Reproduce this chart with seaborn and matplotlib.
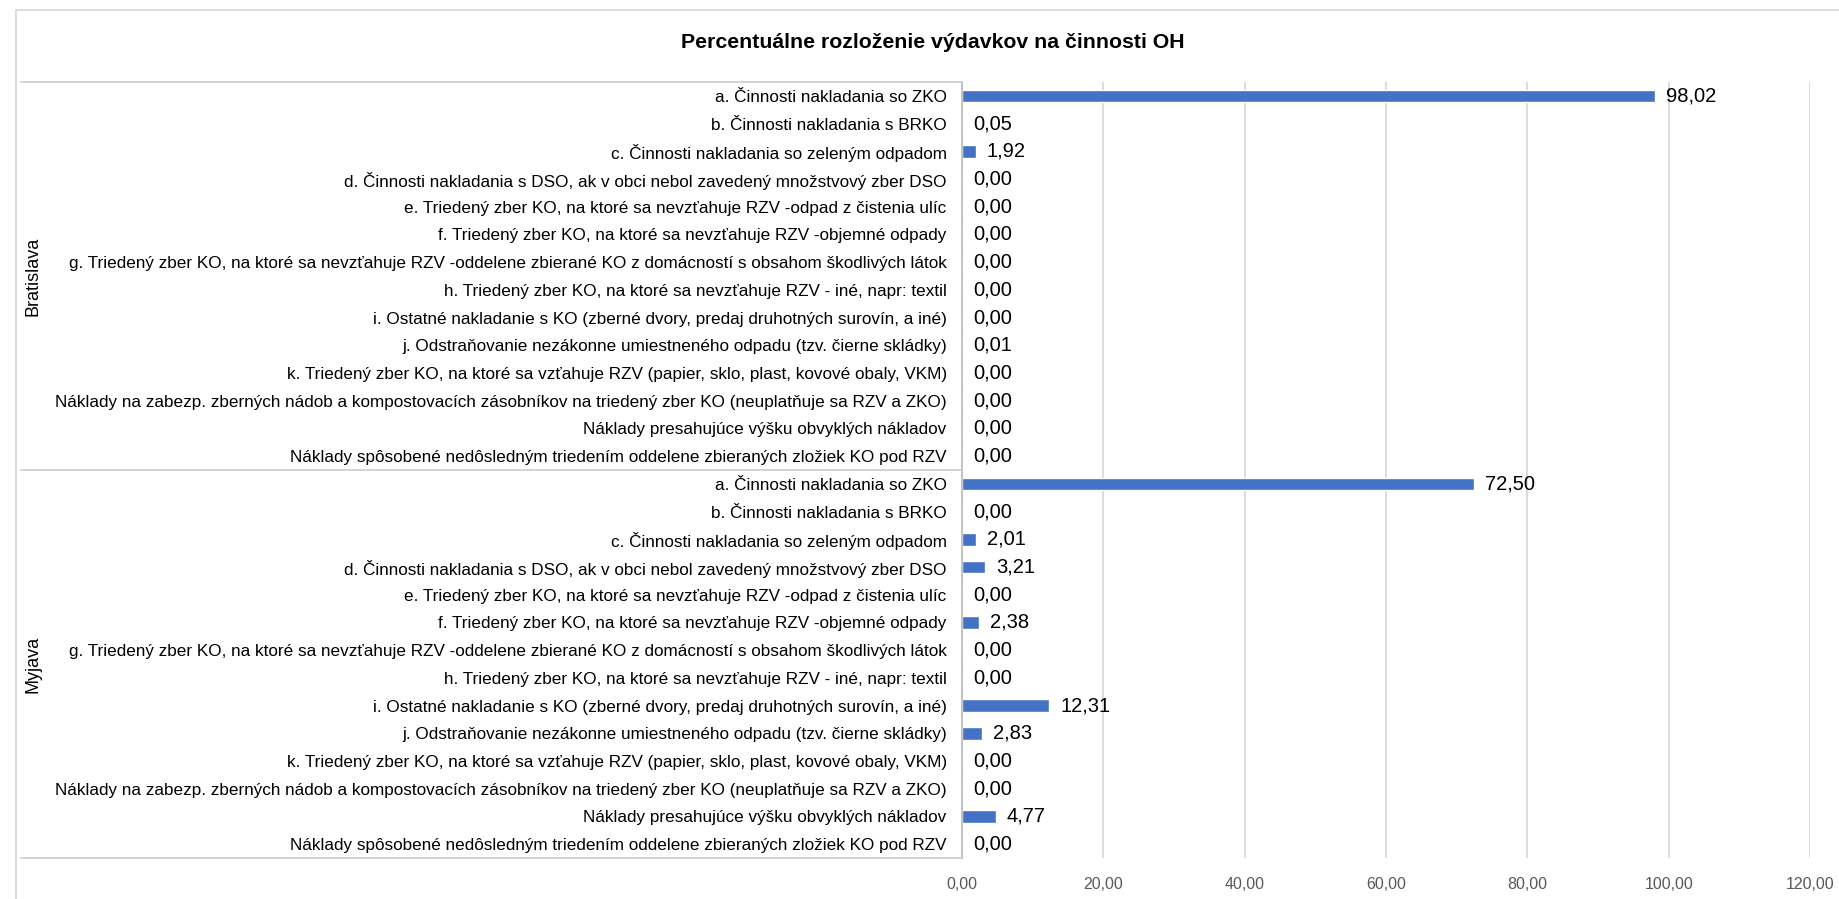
import matplotlib
matplotlib.use("Agg")
import matplotlib.pyplot as plt
from matplotlib.lines import Line2D
import seaborn as sns
import pandas as pd

categories = [
    "a. Činnosti nakladania so ZKO",
    "b. Činnosti nakladania s BRKO",
    "c. Činnosti nakladania so zeleným odpadom",
    "d. Činnosti nakladania s DSO, ak v obci nebol zavedený množstvový zber DSO",
    "e. Triedený zber KO, na ktoré sa nevzťahuje RZV -odpad z čistenia ulíc",
    "f. Triedený zber KO, na ktoré sa nevzťahuje RZV -objemné odpady",
    "g. Triedený zber KO, na ktoré sa nevzťahuje RZV -oddelene zbierané KO z domácností s obsahom škodlivých látok",
    "h. Triedený zber KO, na ktoré sa nevzťahuje RZV - iné, napr: textil",
    "i. Ostatné nakladanie s KO (zberné dvory, predaj druhotných surovín, a iné)",
    "j. Odstraňovanie nezákonne umiestneného odpadu (tzv. čierne skládky)",
    "k. Triedený zber KO, na ktoré sa vzťahuje RZV (papier, sklo, plast, kovové obaly, VKM)",
    "Náklady na zabezp. zberných nádob a kompostovacích zásobníkov na triedený zber KO (neuplatňuje sa RZV a ZKO)",
    "Náklady presahujúce výšku obvyklých nákladov",
    "Náklady spôsobené nedôsledným triedením oddelene zbieraných zložiek KO pod RZV",
]
groups = ["Bratislava", "Myjava"]
bratislava = [98.02, 0.05, 1.92, 0.00, 0.00, 0.00, 0.00, 0.00, 0.00, 0.01, 0.00, 0.00, 0.00, 0.00]
myjava = [72.50, 0.00, 2.01, 3.21, 0.00, 2.38, 0.00, 0.00, 12.31, 2.83, 0.00, 0.00, 4.77, 0.00]
x_ticks = [0, 20, 40, 60, 80, 100, 120]
title = "Percentuálne rozloženie výdavkov na činnosti OH"

rows = []
for g, vals in zip(groups, [bratislava, myjava]):
    for c, v in zip(categories, vals):
        rows.append({"key": f"{g}|{c}", "group": g, "category": c, "value": v})
df = pd.DataFrame(rows)

sns.set_theme(style="white")
plt.rcParams["font.family"] = ["Liberation Sans", "DejaVu Sans"]

W, H = 1840, 899
fig = plt.figure(figsize=(W / 100, H / 100), dpi=100)
ax_l, ax_r, ax_t, ax_b = 962, 1810, 82, 858
ax = fig.add_axes([ax_l / W, 1 - ax_b / H, (ax_r - ax_l) / W, (ax_b - ax_t) / H])

sns.barplot(data=df, x="value", y="key", color="#4472C4", width=0.45,
            orient="h", ax=ax, saturation=1)

ax.set_xlim(0, 120)
ax.set_xticks(x_ticks)
ax.set_xticklabels([f"{t:.2f}".replace(".", ",") for t in x_ticks],
                   color="#595959", fontsize=11.5)
ax.set_yticks(range(len(df)))
ax.set_yticklabels(df["category"], fontsize=12, color="black")
ax.tick_params(axis="y", length=0, pad=11)
ax.tick_params(axis="x", length=0, pad=14)
ax.set_xlabel("")
ax.set_ylabel("")
ax.xaxis.grid(True, color="#d9d9d9", linewidth=1.3)
ax.set_axisbelow(True)
for s in ["top", "right", "bottom"]:
    ax.spines[s].set_visible(False)
ax.spines["left"].set_color("#bfbfbf")
ax.spines["left"].set_linewidth(1.3)

# fit label font so the longest label spans ~890 px like the reference
fig.canvas.draw()
r = fig.canvas.get_renderer()
maxw = max(t.get_window_extent(r).width for t in ax.get_yticklabels())
fs = 12 * 890 / maxw
for t in ax.get_yticklabels():
    t.set_fontsize(fs)

labels = [f"{v:.2f}".replace(".", ",") for v in df["value"]]
ax.bar_label(ax.containers[0], labels=labels, padding=8, fontsize=14.5, color="black")

# Title
fig.text(933 / W, 1 - 42 / H, title, ha="center", va="center",
         fontsize=15.3, fontweight="bold", color="black")

# group separators and group labels
n = len(categories)
row_h = (ax_b - ax_t) / (2 * n)
for i in range(3):
    y = ax_t + i * n * row_h
    fig.add_artist(Line2D([21 / W, ax_l / W], [1 - y / H, 1 - y / H],
                          color="#d0d0d0", linewidth=1.3))
for i, g in enumerate(groups):
    yc = ax_t + (i + 0.5) * n * row_h
    fig.text(33 / W, 1 - yc / H, g, rotation=90, ha="center", va="center",
             fontsize=13, color="black")

# chart area border
fig.add_artist(Line2D([16 / W, 16 / W], [0, 1 - 10 / H], color="#d9d9d9", linewidth=1.3))
fig.add_artist(Line2D([16 / W, 1], [1 - 10 / H, 1 - 10 / H], color="#d9d9d9", linewidth=1.3))

fig.savefig("out.png", dpi=100)
